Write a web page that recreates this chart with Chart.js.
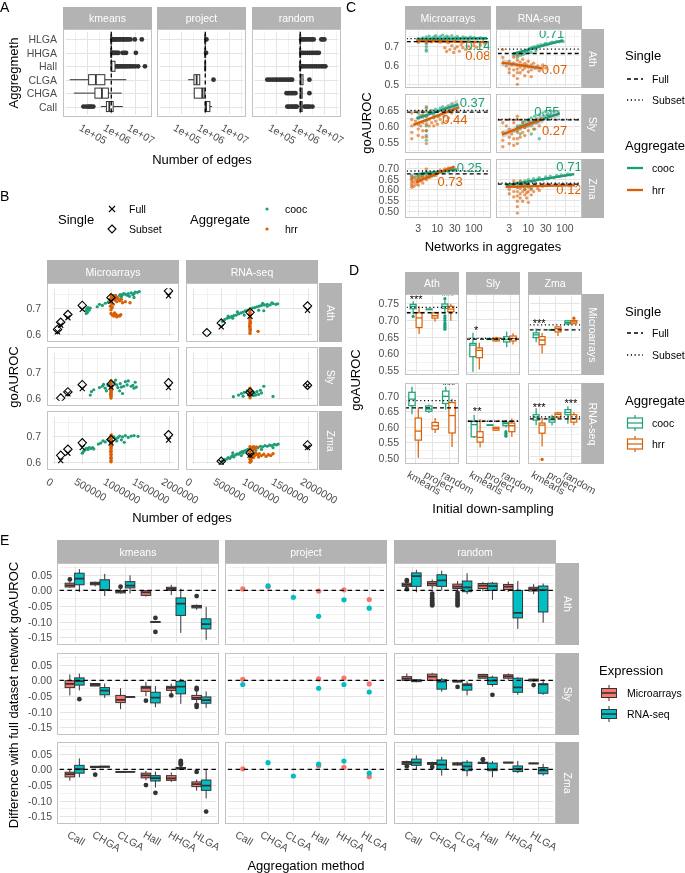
<!DOCTYPE html>
<html><head><meta charset="utf-8">
<script src="https://cdn.jsdelivr.net/npm/chart.js"></script>
<style>
body{margin:0;background:#fff;}
#root{position:relative;width:685px;height:873px;overflow:hidden;font-family:"Liberation Sans",Arial,Helvetica,sans-serif;background:#fff;}
.t{position:absolute;white-space:nowrap;line-height:1;}
canvas{position:absolute;}
</style></head><body><div id="root"></div>
<script>
// ================= DATA =================
// ---- Panel A ----
const A_methods=['kmeans','project','random'];
const A_aggs=['Call','CHGA','CLGA','Hall','HHGA','HLGA'];
const A_xticks=[1e5,1e6,1e7];
const A_xticklabels=['1e+05','1e+06','1e+07'];
const A_ref=1e6;
const A_kmeans_box=[[3.7e5,6.3e5,8.3e5,1.2e6,3.0e6],[2.8e4,2.1e5,4.1e5,7.6e5,2.7e6],[1.9e4,1.15e5,2.3e5,5.4e5,4.2e6],[1.0e6,1.0e6,1.02e6,1.43e6,1.5e6],[1.0e6,1.0e6,1.0e6,1.0e6,1.05e6],[1.0e6,1.0e6,1.0e6,1.0e6,1.05e6]];
const A_kmeans_out=[[7e4,9e4,1.1e5,1.3e5,1.5e5,1.8e5],[],[],[1.6e6,1.8e6,2e6,2.3e6,2.6e6,3e6,3.5e6,4e6,4.7e6,5.5e6,6.5e6,8e6,1e7,1.3e7,2.5e7],[1.1e6,1.2e6,1.3e6,1.45e6,1.6e6,1.8e6,2e6,3e6,3.5e6,4.1e6,1.05e7],[1.1e6,1.2e6,1.35e6,1.5e6,1.7e6,1.9e6,2.2e6,2.5e6,2.9e6,3.3e6,3.8e6,4.4e6,5.2e6,6.3e6,9.5e6,1.85e7]];
const A_project_box=[[1.0e6,1.0e6,1.08e6,1.55e6,1.9e6],[3.3e5,3.5e5,7.5e5,9.0e5,1.05e6],[1.95e5,3.4e5,4.4e5,5.9e5,6.0e5],[1e6,1e6,1e6,1e6,1e6],[1e6,1e6,1e6,1e6,1e6],[1e6,1e6,1e6,1e6,1e6]];
const A_project_out=[[],[],[2.2e6],[],[1.08e6],[1.12e6]];
const A_random_box=[[9e5,1e6,1.05e6,1.2e6,1.3e6],[9.5e5,1e6,1.05e6,1.2e6,1.3e6],[1e6,1e6,1.05e6,1.3e6,1.35e6],[1e6,1e6,1e6,1e6,1.05e6],[1e6,1e6,1e6,1e6,1.05e6],[1e6,1e6,1e6,1e6,1.05e6]];
const A_random_out=[[2.9e5,3.4e5,4e5,4.7e5,5.5e5,6.4e5,7.2e5,1.5e6,1.8e6,2.1e6,2.5e6,3.2e6],[2.7e5,3.2e5,3.8e5,4.5e5,5.3e5,6.3e5,2.4e6],[4.3e4,5.5e4,7e4,9e4,1.1e5,1.4e5,1.7e5,2.1e5,2.6e5,3.2e5,3.9e5,4.6e5,2.4e6],[1.1e6,1.3e6,1.6e6,2e6,2.5e6,3.1e6,3.9e6,4.8e6,6e6,7.5e6,9e6,1.1e7],[1.1e6,1.3e6,1.6e6,2e6,2.4e6,2.9e6,3.5e6,4.2e6,5e6,5.9e6],[1.1e6,1.3e6,1.5e6,1.8e6,2.2e6,2.6e6,3.1e6,3.6e6,7.5e6,8.5e6,1.0e7]];

// ---- Panel B ----
const B_tech=['Microarrays','RNA-seq'];
const B_species=['Ath','Sly','Zma'];
const B_sizes=[70000,125000,250000,500000,1000000,2000000];
const B_xticks=[0,500000,1000000,1500000,2000000];
const B_xticklabels=['0','500000','1000000','1500000','2000000'];
const B_yticks=[0.6,0.7];
const B_full_Mi_Ath=[0.609,0.634,0.662,0.693,0.724,0.744];
const B_sub_Mi_Ath=[0.618,0.645,0.674,0.708,0.737,0.762];
const B_full_Mi_Sly=[null,null,0.617,0.636,0.642,0.640];
const B_sub_Mi_Sly=[null,0.601,0.624,0.651,0.653,0.658];
const B_full_Mi_Zma=[null,0.606,0.634,0.655,0.673,0.683];
const B_sub_Mi_Zma=[null,0.626,0.649,0.673,0.685,0.703];
const B_full_RNA_Ath=[null,null,null,0.628,0.667,0.690];
const B_sub_RNA_Ath=[null,null,0.606,0.642,0.682,0.706];
const B_full_RNA_Sly=[null,null,null,null,0.619,0.648];
const B_sub_RNA_Sly=[null,null,null,null,0.623,0.649];
const B_full_RNA_Zma=[null,null,null,0.600,0.627,0.655];
const B_sub_RNA_Zma=[null,null,null,0.604,0.635,0.665];
const B_cooc_Mi_Ath=[[560000,0.688],[580000,0.695],[600000,0.700],[620000,0.690],[640000,0.698],[590000,0.682],[570000,0.678],[760000,0.703],[800000,0.712],[850000,0.708],[900000,0.716],[950000,0.720],[1000000,0.728],[1050000,0.735],[1080000,0.742],[1100000,0.738],[1150000,0.745],[1180000,0.740],[1200000,0.748],[1250000,0.750],[1280000,0.746],[1300000,0.752],[1350000,0.755],[1400000,0.752],[1420000,0.758],[1460000,0.757],[1490000,0.760],[1220000,0.752],[1120000,0.733],[1320000,0.742],[1380000,0.748],[1040000,0.745],[1160000,0.748],[1400000,0.738]];
const B_hrr_Mi_Ath=[[1000000,0.745],[1000000,0.735],[1000000,0.725],[1010000,0.715],[1030000,0.740],[1050000,0.732],[1070000,0.728],[1100000,0.722],[1120000,0.735],[1150000,0.725],[1180000,0.730],[1200000,0.718],[1250000,0.722],[1330000,0.718],[1080000,0.745],[1000000,0.678],[1020000,0.672],[1050000,0.668],[1080000,0.675],[1100000,0.665],[1120000,0.670],[1150000,0.668],[1170000,0.673],[1060000,0.680],[990000,0.705],[1020000,0.700],[1040000,0.712],[1000000,0.692]];
const B_cooc_RNA_Ath=[[520000,0.648],[560000,0.655],[600000,0.660],[640000,0.662],[680000,0.667],[720000,0.670],[760000,0.672],[800000,0.676],[840000,0.680],[880000,0.683],[920000,0.688],[960000,0.690],[1000000,0.695],[1040000,0.698],[1080000,0.700],[1120000,0.703],[1160000,0.705],[1200000,0.708],[1250000,0.710],[1300000,0.712],[1350000,0.710],[1400000,0.715],[1450000,0.712],[1480000,0.714],[900000,0.672],[1150000,0.690],[700000,0.660],[1300000,0.705],[1220000,0.716],[1380000,0.718],[620000,0.668],[780000,0.684],[1240000,0.688]];
const B_hrr_RNA_Ath=[[1000000,0.690],[1000000,0.681],[1000000,0.673],[1000000,0.664],[1000000,0.657],[1000000,0.650],[1000000,0.641],[1000000,0.636],[1000000,0.627],[1000000,0.621],[1000000,0.612],[1000000,0.604],[1005000,0.645],[995000,0.630],[1005000,0.617],[1140000,0.611]];
const B_cooc_Mi_Sly=[[640000,0.612],[660000,0.625],[700000,0.632],[800000,0.640],[850000,0.645],[870000,0.652],[900000,0.638],[950000,0.648],[980000,0.655],[1050000,0.660],[1080000,0.668],[1100000,0.650],[1120000,0.640],[1150000,0.628],[1180000,0.642],[1200000,0.618],[1220000,0.645],[1250000,0.662],[1280000,0.650],[1300000,0.665],[1350000,0.645],[1380000,0.648],[1420000,0.660],[1440000,0.642],[1400000,0.638],[1160000,0.655],[920000,0.628]];
const B_hrr_Mi_Sly=[[1000000,0.601],[1000000,0.607],[1000000,0.611],[1000000,0.618],[1000000,0.623],[1000000,0.627],[1000000,0.634],[1000000,0.638],[1000000,0.645],[1000000,0.648],[1000000,0.655],[1000000,0.661],[1000000,0.666],[1005000,0.630],[995000,0.615],[1005000,0.645]];
const B_cooc_RNA_Sly=[[710000,0.606],[800000,0.612],[850000,0.618],[900000,0.622],[950000,0.628],[980000,0.615],[1020000,0.632],[1050000,0.625],[1080000,0.618],[1100000,0.612],[1120000,0.625],[1150000,0.615],[1180000,0.630],[1240000,0.645],[1200000,0.620],[1400000,0.607],[1060000,0.610],[880000,0.608]];
const B_hrr_RNA_Sly=[[1000000,0.602],[1000000,0.608],[1000000,0.612],[1000000,0.619],[1000000,0.623],[1000000,0.629],[1000000,0.633],[1000000,0.638],[1005000,0.615],[995000,0.625]];
const B_cooc_Mi_Zma=[[500000,0.634],[520000,0.640],[540000,0.645],[560000,0.650],[580000,0.652],[600000,0.648],[620000,0.655],[650000,0.652],[680000,0.655],[700000,0.650],[780000,0.668],[820000,0.672],[860000,0.680],[900000,0.676],[950000,0.685],[1000000,0.690],[1050000,0.695],[1080000,0.688],[1120000,0.692],[1150000,0.698],[1180000,0.684],[1200000,0.695],[1250000,0.700],[1300000,0.693],[1350000,0.698],[1400000,0.700],[1470000,0.697],[1100000,0.680],[1230000,0.675]];
const B_hrr_Mi_Zma=[[1000000,0.602],[1000000,0.607],[1000000,0.615],[1000000,0.619],[1000000,0.627],[1000000,0.631],[1000000,0.639],[1000000,0.643],[1000000,0.651],[1000000,0.654],[1000000,0.662],[1000000,0.667],[1000000,0.673],[1000000,0.681],[1000000,0.685],[1000000,0.693],[1000000,0.697],[1005000,0.702],[995000,0.640],[1005000,0.660]];
const B_cooc_RNA_Zma=[[520000,0.605],[560000,0.610],[600000,0.612],[620000,0.618],[650000,0.615],[680000,0.622],[700000,0.625],[720000,0.620],[750000,0.628],[780000,0.632],[800000,0.630],[830000,0.636],[860000,0.640],[880000,0.635],[900000,0.642],[930000,0.645],[960000,0.648],[1000000,0.650],[1030000,0.652],[1060000,0.655],[1100000,0.657],[1140000,0.655],[1180000,0.660],[1220000,0.658],[1260000,0.662],[1300000,0.660],[1340000,0.664],[1380000,0.662],[1420000,0.667],[1460000,0.665],[1490000,0.668],[1200000,0.648],[1400000,0.655],[700000,0.635],[850000,0.625],[1100000,0.645]];
const B_hrr_RNA_Zma=[[1000000,0.600],[1000000,0.611],[1000000,0.619],[1000000,0.631],[1000000,0.639],[1000000,0.651],[1000000,0.658],[1030000,0.655],[1060000,0.658],[1090000,0.652],[1120000,0.656],[1050000,0.645],[1050000,0.630],[1080000,0.625],[1100000,0.635],[1130000,0.628],[1160000,0.632],[1200000,0.625],[1240000,0.630],[1280000,0.622],[1320000,0.628],[1360000,0.625],[1400000,0.632],[1020000,0.615],[1060000,0.618],[1150000,0.620],[1020000,0.605]];

// ---- Panel C ----
const C_xticks=[3,10,30,100];
const C_xticklabels=['3','10','30','100'];
const C_lines_Mi_Ath=[0.721,0.737], C_lines_RNA_Ath=[0.660,0.683];
const C_lines_Mi_Sly=[0.643,0.648], C_lines_RNA_Sly=[0.619,0.620];
const C_lines_Mi_Zma=[0.673,0.686], C_lines_RNA_Zma=[0.625,0.630];
const C_cooc_Mi_Ath=[[3,0.728],[3,0.735],[3.2,0.722],[4,0.740],[4,0.730],[5,0.745],[5,0.725],[5,0.710],[5,0.695],[5,0.680],[5,0.672],[6,0.750],[7,0.738],[8,0.745],[9,0.752],[10,0.740],[12,0.748],[14,0.755],[16,0.742],[18,0.750],[20,0.745],[25,0.752],[30,0.740],[35,0.748],[40,0.738],[50,0.745],[60,0.742],[70,0.738],[80,0.745],[100,0.742],[120,0.736],[150,0.740],[180,0.735],[200,0.738]];
const C_hrr_Mi_Ath=[[3,0.725],[3,0.718],[4,0.730],[5,0.722],[5,0.715],[6,0.728],[7,0.720],[8,0.732],[10,0.725],[12,0.718],[15,0.728],[18,0.722],[20,0.715],[16,0.690],[18,0.670],[22,0.680],[25,0.700],[28,0.665],[30,0.685],[35,0.695],[40,0.672],[45,0.705],[50,0.690],[60,0.680],[70,0.698],[80,0.685],[100,0.700],[120,0.692],[150,0.705],[30,0.725],[50,0.718],[70,0.722],[100,0.715],[200,0.710]];
const C_cooc_RNA_Ath=[[4,0.650],[5,0.655],[5,0.640],[6,0.662],[6,0.650],[7,0.668],[7,0.655],[8,0.672],[8,0.660],[9,0.676],[10,0.680],[10,0.668],[11,0.688],[12,0.684],[13,0.692],[14,0.686],[15,0.695],[17,0.690],[18,0.700],[20,0.697],[22,0.705],[25,0.702],[28,0.708],[30,0.712],[35,0.710],[40,0.715],[45,0.718],[50,0.716],[60,0.722],[70,0.720],[80,0.725],[90,0.722],[12,0.665],[16,0.674]];
const C_hrr_RNA_Ath=[[2,0.680],[2,0.640],[2,0.610],[2.5,0.595],[3,0.620],[3,0.580],[3,0.560],[3.5,0.600],[4,0.640],[4,0.610],[4,0.575],[4,0.545],[5,0.650],[5,0.625],[5,0.600],[5,0.580],[5,0.560],[5,0.530],[5,0.500],[6,0.615],[6,0.590],[6,0.560],[7,0.630],[7,0.600],[7,0.575],[8,0.610],[8,0.585],[8,0.545],[9,0.600],[10,0.620],[10,0.590],[10,0.565],[12,0.600],[12,0.575],[14,0.610],[15,0.585],[18,0.595],[20,0.570],[25,0.600],[30,0.585],[12,0.540]];
const C_cooc_Mi_Sly=[[3,0.625],[3,0.640],[3.5,0.632],[4,0.645],[4,0.628],[5,0.660],[5,0.645],[5,0.630],[5,0.615],[5,0.600],[5,0.585],[5,0.570],[5,0.555],[6,0.640],[7,0.648],[8,0.635],[9,0.652],[10,0.645],[11,0.630],[12,0.655],[14,0.660],[15,0.648],[17,0.655],[20,0.662],[22,0.650],[25,0.668],[30,0.660],[35,0.665]];
const C_hrr_Mi_Sly=[[2,0.640],[2,0.620],[2,0.600],[2,0.580],[2,0.560],[2.5,0.615],[3,0.645],[3,0.625],[3,0.605],[3,0.590],[3,0.570],[3.5,0.600],[4,0.635],[4,0.610],[4,0.585],[4,0.565],[5,0.655],[5,0.630],[5,0.605],[5,0.585],[5,0.565],[6,0.620],[6,0.600],[7,0.640],[7,0.610],[8,0.625],[8,0.600],[9,0.615],[10,0.630],[10,0.605],[12,0.620],[14,0.610],[15,0.630],[18,0.615],[20,0.625],[25,0.640],[5,0.545]];
const C_cooc_RNA_Sly=[[5,0.585],[6,0.600],[6,0.575],[7,0.610],[8,0.595],[8,0.615],[9,0.605],[10,0.620],[10,0.600],[11,0.612],[12,0.625],[13,0.608],[14,0.618],[15,0.630],[17,0.622],[18,0.612],[20,0.635],[22,0.625],[25,0.640],[28,0.630],[30,0.645],[35,0.638],[40,0.648],[50,0.645],[20,0.560],[12,0.575],[15,0.590]];
const C_hrr_RNA_Sly=[[2,0.610],[2,0.580],[2,0.555],[2,0.535],[2.5,0.600],[3,0.620],[3,0.590],[3,0.565],[3,0.545],[3.5,0.575],[4,0.610],[4,0.585],[4,0.560],[4,0.540],[5,0.630],[5,0.600],[5,0.580],[5,0.560],[5,0.545],[6,0.590],[6,0.565],[7,0.610],[7,0.580],[8,0.595],[8,0.570],[9,0.600],[10,0.615],[10,0.585],[12,0.600],[14,0.590],[16,0.610],[20,0.600],[5,0.620]];
const C_cooc_Mi_Zma=[[2,0.650],[2,0.665],[2.5,0.660],[3,0.655],[3,0.670],[3,0.640],[3.5,0.665],[4,0.660],[4,0.675],[5,0.670],[5,0.655],[5,0.680],[6,0.668],[7,0.672],[8,0.665],[9,0.678],[10,0.675],[12,0.682],[14,0.678],[16,0.685],[18,0.690],[20,0.683],[25,0.692],[30,0.688]];
const C_hrr_Mi_Zma=[[2,0.610],[2,0.620],[2,0.630],[2,0.640],[2,0.650],[2,0.660],[2.3,0.615],[2.3,0.635],[2.3,0.655],[2.6,0.625],[2.6,0.645],[3,0.620],[3,0.635],[3,0.650],[3,0.665],[3.5,0.640],[3.5,0.655],[4,0.630],[4,0.650],[4,0.665],[5,0.645],[5,0.660],[5,0.680],[5,0.695],[6,0.655],[6,0.670],[7,0.660],[8,0.675],[9,0.665],[10,0.680],[12,0.690],[14,0.685],[16,0.695],[20,0.700],[25,0.695],[28,0.702]];
const C_cooc_RNA_Zma=[[3,0.615],[4,0.622],[5,0.610],[5,0.628],[6,0.618],[6,0.635],[7,0.625],[8,0.640],[8,0.615],[9,0.632],[10,0.645],[10,0.625],[12,0.638],[14,0.650],[15,0.635],[18,0.648],[20,0.655],[25,0.645],[30,0.658],[35,0.650],[40,0.662],[50,0.655],[60,0.665],[70,0.660],[80,0.668],[100,0.665],[120,0.672],[140,0.668],[8,0.600],[12,0.605]];
const C_hrr_RNA_Zma=[[3,0.620],[3,0.600],[3,0.580],[4,0.615],[4,0.590],[4,0.565],[5,0.630],[5,0.610],[5,0.590],[5,0.570],[5,0.545],[5,0.520],[6,0.605],[6,0.580],[6,0.560],[7,0.615],[7,0.590],[7,0.545],[8,0.625],[8,0.600],[8,0.575],[9,0.585],[9,0.560],[10,0.610],[10,0.590],[10,0.540],[12,0.600],[12,0.575],[14,0.590],[15,0.620],[18,0.605],[20,0.595],[25,0.615],[30,0.620],[5,0.490],[6,0.640],[4,0.640]];
// fitted lines [start,end] and ribbon half-widths [start,mid,end]
const C_fit_Mi_Ath_cooc=[[2.7,0.735],[230,0.739]], C_se_Mi_Ath_cooc=[0.004,0.002,0.004];
const C_fit_Mi_Ath_hrr=[[2.7,0.726],[230,0.719]], C_se_Mi_Ath_hrr=[0.004,0.002,0.005];
const C_fit_RNA_Ath_cooc=[[3.9,0.659],[89,0.728]], C_se_RNA_Ath_cooc=[0.008,0.003,0.007];
const C_fit_RNA_Ath_hrr=[[1.9,0.613],[24,0.583]], C_se_RNA_Ath_hrr=[0.02,0.008,0.015];
const C_fit_Mi_Sly_cooc=[[2.7,0.623],[37,0.667]], C_se_Mi_Sly_cooc=[0.008,0.004,0.016];
const C_fit_Mi_Sly_hrr=[[2.2,0.603],[40,0.658]], C_se_Mi_Sly_hrr=[0.006,0.003,0.012];
const C_fit_RNA_Sly_cooc=[[4.7,0.593],[73,0.639]], C_se_RNA_Sly_cooc=[0.01,0.005,0.012];
const C_fit_RNA_Sly_hrr=[[1.9,0.573],[26,0.623]], C_se_RNA_Sly_hrr=[0.012,0.006,0.014];
const C_fit_Mi_Zma_cooc=[[2.7,0.671],[34,0.693]], C_se_Mi_Zma_cooc=[0.004,0.002,0.006];
const C_fit_Mi_Zma_hrr=[[2.6,0.634],[29,0.707]], C_se_Mi_Zma_hrr=[0.004,0.002,0.006];
const C_fit_RNA_Zma_cooc=[[2.4,0.620],[180,0.671]], C_se_RNA_Zma_cooc=[0.006,0.003,0.006];
const C_fit_RNA_Zma_hrr=[[2.4,0.612],[190,0.620]], C_se_RNA_Zma_hrr=[0.008,0.004,0.01];
const C_lab_Mi_Ath=[['0.14',58,0.697],['0.08',58,0.647]];
const C_lab_RNA_Ath=[['0.71',19.6,0.757],['0.07',23.4,0.572]];
const C_lab_Mi_Sly=[['0.37',41,0.671],['0.44',13.6,0.618]];
const C_lab_RNA_Sly=[['0.55',14.5,0.642],['0.27',23.5,0.583]];
const C_lab_Mi_Zma=[['0.25',33.9,0.700],['0.73',10.1,0.634]];
const C_lab_RNA_Zma=[['0.71',58.4,0.704],['0.12',58.4,0.595]];

// ---- Panel D ----
const D_cats=['kmeans','project','random'];
const D_Mi_Ath_cooc=[[0.716,0.733,0.740,0.746,0.755],[0.729,0.730,0.731,0.732,0.733],[0.718,0.734,0.740,0.747,0.758]];
const D_Mi_Ath_cooc_out=[[0.710],[],[0.763,0.712,0.705,0.698,0.690,0.684,0.678,0.672]];
const D_Mi_Ath_hrr=[[0.658,0.677,0.706,0.721,0.740],[0.695,0.705,0.712,0.721,0.722],[0.697,0.724,0.732,0.740,0.748]];
const D_Mi_Ath_hrr_out=[[],[],[]];
const D_Mi_Ath_lines=[0.721,0.737];
const D_Mi_Ath_stars=[['***',0,0.765],['***',2,0.774]];
const D_Mi_Sly_cooc=[[0.550,0.593,0.626,0.631,0.661],[0.641,0.642,0.643,0.644,0.645],[0.620,0.635,0.642,0.650,0.665]];
const D_Mi_Sly_cooc_out=[[],[],[]];
const D_Mi_Sly_hrr=[[0.556,0.590,0.611,0.618,0.633],[0.635,0.638,0.642,0.646,0.650],[0.628,0.638,0.645,0.652,0.660]];
const D_Mi_Sly_hrr_out=[[],[],[]];
const D_Mi_Sly_lines=[0.643,0.645];
const D_Mi_Sly_stars=[['*',0,0.671]];
const D_Mi_Zma_cooc=[[0.633,0.647,0.655,0.661,0.674],[0.668,0.669,0.670,0.671,0.672],[0.685,0.688,0.692,0.697,0.700]];
const D_Mi_Zma_cooc_out=[[],[],[]];
const D_Mi_Zma_hrr=[[0.600,0.626,0.640,0.650,0.661],[0.652,0.664,0.674,0.679,0.681],[0.686,0.690,0.694,0.698,0.701]];
const D_Mi_Zma_hrr_out=[[],[],[0.705]];
const D_Mi_Zma_lines=[0.670,0.685];
const D_Mi_Zma_stars=[['***',0,0.693]];
const D_RNA_Ath_cooc=[[0.640,0.668,0.689,0.711,0.729],[0.644,0.650,0.657,0.667,0.672],[0.655,0.675,0.698,0.715,0.730]];
const D_RNA_Ath_cooc_out=[[],[],[]];
const D_RNA_Ath_hrr=[[0.500,0.557,0.586,0.628,0.663],[0.580,0.592,0.603,0.614,0.628],[0.535,0.580,0.636,0.678,0.690]];
const D_RNA_Ath_hrr_out=[[],[],[]];
const D_RNA_Ath_lines=[0.661,0.684];
const D_RNA_Ath_stars=[['***',0,0.742],['***',2,0.737]];
const D_RNA_Sly_cooc=[[0.562,0.566,0.607,0.617,0.640],[0.603,0.604,0.605,0.606,0.607],[0.598,0.603,0.610,0.615,0.622]];
const D_RNA_Sly_cooc_out=[[],[],[0.583,0.578,0.572,0.568]];
const D_RNA_Sly_hrr=[[0.530,0.548,0.564,0.583,0.625],[0.585,0.588,0.593,0.598,0.600],[0.565,0.583,0.603,0.612,0.627]];
const D_RNA_Sly_hrr_out=[[],[],[]];
const D_RNA_Sly_lines=[0.618,0.618];
const D_RNA_Sly_stars=[['**',0,0.657]];
const D_RNA_Zma_cooc=[[0.605,0.622,0.632,0.640,0.662],[0.604,0.615,0.623,0.632,0.640],[0.610,0.640,0.648,0.657,0.668]];
const D_RNA_Zma_cooc_out=[[],[],[]];
const D_RNA_Zma_hrr=[[0.533,0.578,0.605,0.612,0.630],[0.628,0.632,0.641,0.646,0.650],[0.605,0.615,0.627,0.640,0.648]];
const D_RNA_Zma_hrr_out=[[0.490],[],[]];
const D_RNA_Zma_lines=[0.626,0.633];
const D_RNA_Zma_stars=[['***',0,0.668],['***',2,0.684]];

// ---- Panel E ----
const E_methods=['kmeans','project','random'];
const E_species=['Ath','Sly','Zma'];
const E_aggs=['Call','CHGA','CLGA','Hall','HHGA','HLGA'];
const E_yticks=[-0.15,-0.1,-0.05,0,0.05];
const E_yticklabels=['-0.15','-0.10','-0.05','0.00','0.05'];
const E_km_Ath_mic=[[0.008,0.011,0.016,0.023,0.028],[0.013,0.018,0.022,0.026,0.028],[-0.010,-0.008,-0.004,-0.001,0.005],[-0.020,-0.016,-0.006,-0.001,0.000],[-0.015,0.000,0.005,0.010,0.018],[-0.062,-0.056,-0.052,-0.048,-0.045]];
const E_km_Ath_mic_out=[[0.035],[],[0.012],[],[],[-0.018]];
const E_km_Ath_rna=[[-0.005,0.018,0.038,0.055,0.068],[-0.018,0.000,0.002,0.034,0.053],[-0.010,0.008,0.015,0.028,0.048],[-0.103,-0.102,-0.101,-0.100,-0.099],[-0.136,-0.080,-0.042,-0.024,0.005],[-0.158,-0.123,-0.108,-0.091,-0.053]];
const E_km_Ath_rna_out=[[],[],[],[-0.088,-0.133],[],[]];
const E_km_Sly_mic=[[-0.048,-0.023,-0.011,-0.001,0.019],[-0.018,-0.018,-0.014,-0.010,-0.009],[-0.092,-0.071,-0.062,-0.048,-0.025],[-0.050,-0.035,-0.024,-0.019,-0.005],[-0.040,-0.032,-0.024,-0.019,-0.010],[-0.070,-0.061,-0.056,-0.048,-0.035]];
const E_km_Sly_mic_out=[[],[],[],[-0.065],[-0.048],[-0.024,-0.029,-0.078,-0.085]];
const E_km_Sly_rna=[[-0.032,-0.015,-0.002,0.008,0.022],[-0.056,-0.046,-0.033,-0.023,-0.010],[-0.054,-0.054,-0.053,-0.053,-0.052],[-0.086,-0.072,-0.055,-0.038,-0.018],[-0.075,-0.043,-0.020,-0.003,0.005],[-0.088,-0.073,-0.063,-0.053,-0.035]];
const E_km_Sly_rna_out=[[-0.060],[],[],[],[],[]];
const E_km_Zma_mic=[[-0.036,-0.024,-0.015,-0.009,0.000],[0.004,0.006,0.008,0.010,0.011],[-0.009,-0.009,-0.008,-0.007,-0.007],[-0.035,-0.027,-0.019,-0.012,-0.005],[-0.040,-0.035,-0.029,-0.020,-0.010],[-0.068,-0.055,-0.047,-0.040,-0.033]];
const E_km_Zma_mic_out=[[],[-0.017],[],[-0.050],[],[-0.008]];
const E_km_Zma_rna=[[-0.025,-0.012,0.001,0.013,0.035],[0.006,0.007,0.009,0.010,0.011],[-0.009,-0.008,-0.008,-0.007,-0.007],[-0.058,-0.037,-0.028,-0.020,-0.007],[-0.002,0.001,0.004,0.006,0.008],[-0.093,-0.067,-0.052,-0.034,0.000]];
const E_km_Zma_rna_out=[[],[],[],[-0.075],[0.015,0.020,0.024,0.027],[-0.135]];
const E_pr_Ath_mic=[0.005,0.012,null,-0.002,0.002,-0.029];
const E_pr_Ath_rna=[null,0.015,-0.022,-0.083,-0.030,-0.057];
const E_pr_Sly_mic=[0.004,null,null,0.005,0.008,-0.011];
const E_pr_Sly_rna=[-0.013,null,null,-0.025,-0.013,-0.037];
const E_pr_Zma_mic=[0.002,null,null,0.012,0.007,-0.023];
const E_pr_Zma_rna=[null,0.022,-0.021,0.017,0.027,-0.012];
const E_ra_Ath_mic=[[0.010,0.013,0.018,0.023,0.028],[0.005,0.015,0.022,0.028,0.035],[-0.002,0.006,0.012,0.020,0.030],[-0.003,0.006,0.015,0.022,0.027],[-0.005,0.003,0.012,0.019,0.028],[-0.012,-0.002,0.004,0.010,0.020]];
const E_ra_Ath_mic_out=[[0.033,0.030,0.004],[-0.010,-0.018,-0.025,-0.032,-0.038,-0.044,-0.048],[-0.008,-0.016,-0.024,-0.030,-0.036,-0.042,-0.048],[],[],[]];
const E_ra_Ath_rna=[[-0.006,0.013,0.046,0.056,0.066],[0.000,0.013,0.032,0.050,0.063],[-0.012,-0.004,0.010,0.030,0.055],[-0.030,0.000,0.014,0.023,0.027],[-0.123,-0.088,-0.072,0.000,0.030],[-0.103,-0.069,0.001,0.014,0.022]];
const E_ra_Ath_rna_out=[[],[],[],[],[],[]];
const E_ra_Sly_mic=[[-0.003,0.000,0.006,0.012,0.022],[-0.002,0.000,0.012,0.020,0.024],[-0.007,-0.005,-0.003,0.000,0.001],[0.005,0.007,0.013,0.019,0.021],[0.002,0.007,0.013,0.018,0.022],[-0.004,-0.002,0.001,0.004,0.006]];
const E_ra_Sly_mic_out=[[],[],[-0.021],[],[],[-0.015]];
const E_ra_Sly_rna=[[-0.006,-0.004,-0.001,0.002,0.004],[-0.036,-0.028,-0.004,0.002,0.008],[-0.048,-0.031,-0.015,-0.011,-0.003],[-0.020,-0.013,-0.001,0.010,0.015],[-0.046,-0.038,-0.022,0.007,0.010],[-0.046,-0.041,-0.013,-0.011,0.003]];
const E_ra_Sly_rna_out=[[],[],[],[-0.046],[],[]];
const E_ra_Zma_mic=[[0.012,0.016,0.021,0.025,0.028],[0.012,0.016,0.019,0.022,0.025],[0.012,0.014,0.018,0.021,0.024],[0.017,0.019,0.021,0.023,0.026],[0.021,0.021,0.022,0.023,0.023],[0.018,0.018,0.019,0.020,0.020]];
const E_ra_Zma_mic_out=[[0.010],[0.008],[],[0.031,0.032],[],[]];
const E_ra_Zma_rna=[[0.000,0.013,0.022,0.033,0.045],[-0.020,0.000,0.015,0.030,0.040],[-0.022,-0.004,0.010,0.023,0.030],[-0.025,-0.004,0.000,0.020,0.027],[-0.012,-0.007,0.002,0.011,0.027],[-0.020,-0.014,-0.003,0.006,0.018]];
const E_ra_Zma_rna_out=[[],[],[],[],[],[]];

// ================= STYLE / HELPERS =================
const COOC='#1B9E77', HRR='#D95F02', MIC='#F8766D', RNA='#00BFC4';
const COOC_A='rgba(27,158,119,0.6)', HRR_A='rgba(217,95,2,0.6)';
const GRID_MAJ='#E4E4E4', GRID_MIN='#F1F1F1', BORDER='#C2C2C2', STRIP='#B3B3B3', TICK='#4D4D4D';
const root=document.getElementById('root');

function T(s,x,y,o){o=o||{};const d=document.createElement('div');d.className='t';d.textContent=s;
  d.style.fontSize=(o.size||10.5)+'px';d.style.color=o.color||TICK;d.style.left=x+'px';d.style.top=y+'px';
  if(o.tl!==undefined){d.style.transformOrigin='0 0';d.style.transform='rotate('+o.tl+'deg)';}
  else{const tx=o.ha==='l'?'0%':o.ha==='r'?'-100%':'-50%';const ty=o.va==='t'?'0%':o.va==='b'?'-100%':'-50%';
    d.style.transform='translate('+tx+','+ty+')'+(o.rot?' rotate('+o.rot+'deg)':'');}
  d.style.zIndex=5;root.appendChild(d);return d;}
function strip(s,x,y,w,h,vert){const d=document.createElement('div');
  d.style.cssText='position:absolute;left:'+x+'px;top:'+y+'px;width:'+w+'px;height:'+h+'px;background:'+STRIP+';';
  root.appendChild(d);T(s,x+w/2,y+h/2,{color:'#fff',size:10.5,rot:vert?90:0});}
function pts(pairs){return pairs.map(p=>({x:p[0],y:p[1]}));}
function ds(data,color,r,extra){return Object.assign({data:data,pointRadius:r,pointHoverRadius:r,pointBackgroundColor:color,pointBorderColor:color,pointBorderWidth:0,showLine:false},extra||{});}
function hline(ctx,ys,a,v,dash,lw,col){const p=ys.getPixelForValue(v);ctx.save();ctx.setLineDash(dash);ctx.lineWidth=lw;ctx.strokeStyle=col||'#000';ctx.beginPath();ctx.moveTo(a.left,p);ctx.lineTo(a.right,p);ctx.stroke();ctx.restore();}
function vline(ctx,xs,a,v,dash,lw,col){const p=xs.getPixelForValue(v);ctx.save();ctx.setLineDash(dash);ctx.lineWidth=lw;ctx.strokeStyle=col||'#000';ctx.beginPath();ctx.moveTo(p,a.top);ctx.lineTo(p,a.bottom);ctx.stroke();ctx.restore();}
const DASH=[4,3], DOT=[1.2,2.6];
function vbox(ctx,xs,ys,xc,hw,b,st){
  const xl=xs.getPixelForValue(xc-hw),xr=xs.getPixelForValue(xc+hw),xm=xs.getPixelForValue(xc);
  const p=b.map(v=>ys.getPixelForValue(v));
  ctx.save();ctx.strokeStyle=st.stroke;ctx.lineWidth=st.lw;
  ctx.beginPath();ctx.moveTo(xm,p[4]);ctx.lineTo(xm,p[3]);ctx.moveTo(xm,p[1]);ctx.lineTo(xm,p[0]);ctx.stroke();
  ctx.fillStyle=st.fill;ctx.fillRect(xl,p[3],xr-xl,p[1]-p[3]);ctx.strokeRect(xl,p[3],xr-xl,p[1]-p[3]);
  ctx.lineWidth=st.mlw;ctx.beginPath();ctx.moveTo(xl,p[2]);ctx.lineTo(xr,p[2]);ctx.stroke();ctx.restore();}
function hbox(ctx,xs,ys,yc,hw,b,st){
  const yt=ys.getPixelForValue(yc+hw),yb=ys.getPixelForValue(yc-hw),ym=ys.getPixelForValue(yc);
  const p=b.map(v=>xs.getPixelForValue(v));
  ctx.save();ctx.strokeStyle=st.stroke;ctx.lineWidth=st.lw;
  ctx.beginPath();ctx.moveTo(p[0],ym);ctx.lineTo(p[1],ym);ctx.moveTo(p[3],ym);ctx.lineTo(p[4],ym);ctx.stroke();
  ctx.fillStyle=st.fill;ctx.fillRect(p[1],yt,p[3]-p[1],yb-yt);ctx.strokeRect(p[1],yt,p[3]-p[1],yb-yt);
  ctx.lineWidth=st.mlw;ctx.beginPath();ctx.moveTo(p[2],yt);ctx.lineTo(p[2],yb);ctx.stroke();ctx.restore();}

function facet(o){
  const c=document.createElement('canvas');c.width=o.w;c.height=o.h;
  c.style.left=o.x+'px';c.style.top=o.y+'px';c.style.width=o.w+'px';c.style.height=o.h+'px';
  root.appendChild(c);
  const deco={id:'deco',
    beforeDatasetsDraw(ch){const ctx=ch.ctx,a=ch.chartArea,xs=ch.scales.x,ys=ch.scales.y;
      ctx.save();ctx.beginPath();ctx.rect(a.left,a.top,a.right-a.left,a.bottom-a.top);ctx.clip();ctx.lineWidth=1;
      const vl=(v,col)=>{const p=Math.round(xs.getPixelForValue(v))+0.5;ctx.strokeStyle=col;ctx.beginPath();ctx.moveTo(p,a.top);ctx.lineTo(p,a.bottom);ctx.stroke();};
      const hl=(v,col)=>{const p=Math.round(ys.getPixelForValue(v))+0.5;ctx.strokeStyle=col;ctx.beginPath();ctx.moveTo(a.left,p);ctx.lineTo(a.right,p);ctx.stroke();};
      (o.xMinor||[]).forEach(v=>vl(v,GRID_MIN));(o.yMinor||[]).forEach(v=>hl(v,GRID_MIN));
      (o.xMajor||[]).forEach(v=>vl(v,GRID_MAJ));(o.yMajor||[]).forEach(v=>hl(v,GRID_MAJ));
      ctx.restore();},
    afterDatasetsDraw(ch){const ctx=ch.ctx,a=ch.chartArea;
      if(o.over){ctx.save();ctx.beginPath();ctx.rect(a.left,a.top,a.right-a.left,a.bottom-a.top);ctx.clip();o.over(ctx,ch.scales.x,ch.scales.y,a);ctx.restore();}},
    afterDraw(ch){const ctx=ch.ctx;ctx.save();ctx.strokeStyle=BORDER;ctx.lineWidth=1;ctx.strokeRect(0.5,0.5,o.w-1,o.h-1);ctx.restore();}
  };
  return new Chart(c,{type:'scatter',data:{datasets:o.datasets||[]},
    options:{responsive:false,maintainAspectRatio:false,animation:false,events:[],layout:{padding:0},
      plugins:{legend:{display:false},tooltip:{enabled:false}},
      scales:{x:Object.assign({display:false},o.xs),y:Object.assign({display:false},o.ys)}},
    plugins:[deco]});
}

// ================= PANEL A =================
const A_box={kmeans:A_kmeans_box,project:A_project_box,random:A_random_box};
const A_out={kmeans:A_kmeans_out,project:A_project_out,random:A_random_out};
const A_X=[63,157,252];
A_methods.forEach((m,i)=>{
  const op=[];A_out[m].forEach((arr,j)=>arr.forEach(v=>op.push({x:v,y:j})));
  const x0=A_X[i];
  const ch=facet({x:x0,y:29,w:89,h:88,xs:{type:'logarithmic',min:1.25e4,max:3.9e7},ys:{type:'linear',min:-0.6,max:5.6},
    xMajor:A_xticks,xMinor:[3.16e4,3.16e5,3.16e6,3.16e7],yMajor:[0,1,2,3,4,5],
    datasets:[ds(op,'#333',2.4)],
    over:(ctx,xs,ys,a)=>{A_box[m].forEach((b,j)=>hbox(ctx,xs,ys,j,0.375,b,{stroke:'#333',fill:'#fff',lw:1,mlw:1.8}));
      vline(ctx,xs,a,A_ref,DASH,1.3);}});
  strip(m,x0,7,89,22,false);
  A_xticks.forEach((v,k)=>T(A_xticklabels[k],x0+ch.scales.x.getPixelForValue(v)-4,122,{tl:30}));
  if(i===0)A_aggs.forEach((g,j)=>T(g,x0-6,29+ch.scales.y.getPixelForValue(j),{ha:'r'}));
});
T('Number of edges',202,159,{size:13,color:'#000'});
T('Aggregmeth',13,73,{size:13,color:'#000',rot:-90});
T('A',0,0,{size:14,color:'#000',ha:'l',va:'t'});

// ================= PANEL B =================
const B_tab={Microarrays:{Ath:[B_full_Mi_Ath,B_sub_Mi_Ath,B_cooc_Mi_Ath,B_hrr_Mi_Ath],Sly:[B_full_Mi_Sly,B_sub_Mi_Sly,B_cooc_Mi_Sly,B_hrr_Mi_Sly],Zma:[B_full_Mi_Zma,B_sub_Mi_Zma,B_cooc_Mi_Zma,B_hrr_Mi_Zma]},
 'RNA-seq':{Ath:[B_full_RNA_Ath,B_sub_RNA_Ath,B_cooc_RNA_Ath,B_hrr_RNA_Ath],Sly:[B_full_RNA_Sly,B_sub_RNA_Sly,B_cooc_RNA_Sly,B_hrr_RNA_Sly],Zma:[B_full_RNA_Zma,B_sub_RNA_Zma,B_cooc_RNA_Zma,B_hrr_RNA_Zma]}};
const B_X=[47,186],B_Y=[283,347,411];
B_tech.forEach((t,ci)=>{strip(t,B_X[ci],260,132,23,false);
 B_species.forEach((s,ri)=>{
  const r=B_tab[t][s];const fp=[],sp=[];
  B_sizes.forEach((z,k)=>{if(r[0][k]!=null)fp.push({x:z,y:r[0][k]});if(r[1][k]!=null)sp.push({x:z,y:r[1][k]});});
  const ch=facet({x:B_X[ci],y:B_Y[ri],w:132,h:59,xs:{type:'linear',min:-21000,max:2090000},ys:{type:'linear',min:0.591,max:0.772},
    xMajor:B_xticks,xMinor:[250000,750000,1250000,1750000],yMajor:B_yticks,yMinor:[0.65,0.75],
    datasets:[ds(fp,'#000',3.6,{pointStyle:'crossRot',pointBorderColor:'#000',pointBorderWidth:1.1}),
      ds(sp,'rgba(0,0,0,0)',4.2,{pointStyle:'rectRot',pointBorderColor:'#000',pointBorderWidth:1.1}),
      ds(pts(r[3]),HRR,1.7),ds(pts(r[2]),COOC,1.6)]});
  if(ci===0)B_yticks.forEach(v=>T(String(v),B_X[0]-6,B_Y[ri]+ch.scales.y.getPixelForValue(v),{ha:'r'}));
  if(ri===2)B_xticks.forEach((v,k)=>T(B_xticklabels[k],B_X[ci]+ch.scales.x.getPixelForValue(v)-4,476,{tl:30}));
  if(ci===1)strip(s,319,B_Y[ri],23,59,true);
 });});
T('Number of edges',182,517,{size:13,color:'#000'});
T('goAUROC',13,377,{size:13,color:'#000',rot:-90});
T('B',0,189,{size:14,color:'#000',ha:'l',va:'t'});
T('Single',58,219,{size:13,color:'#000',ha:'l'});
T('Full',129,209,{size:10.5,color:'#000',ha:'l'});
T('Subset',129,229,{size:10.5,color:'#000',ha:'l'});
T('Aggregate',190,219,{size:13,color:'#000',ha:'l'});
T('cooc',285,209,{size:10.5,color:'#000',ha:'l'});
T('hrr',285,229,{size:10.5,color:'#000',ha:'l'});

// ================= PANEL C =================
const C_tab={Microarrays:{
  Ath:{c:C_cooc_Mi_Ath,h:C_hrr_Mi_Ath,l:C_lines_Mi_Ath,fc:C_fit_Mi_Ath_cooc,sc:C_se_Mi_Ath_cooc,fh:C_fit_Mi_Ath_hrr,sh:C_se_Mi_Ath_hrr,lab:C_lab_Mi_Ath},
  Sly:{c:C_cooc_Mi_Sly,h:C_hrr_Mi_Sly,l:C_lines_Mi_Sly,fc:C_fit_Mi_Sly_cooc,sc:C_se_Mi_Sly_cooc,fh:C_fit_Mi_Sly_hrr,sh:C_se_Mi_Sly_hrr,lab:C_lab_Mi_Sly},
  Zma:{c:C_cooc_Mi_Zma,h:C_hrr_Mi_Zma,l:C_lines_Mi_Zma,fc:C_fit_Mi_Zma_cooc,sc:C_se_Mi_Zma_cooc,fh:C_fit_Mi_Zma_hrr,sh:C_se_Mi_Zma_hrr,lab:C_lab_Mi_Zma}},
 'RNA-seq':{
  Ath:{c:C_cooc_RNA_Ath,h:C_hrr_RNA_Ath,l:C_lines_RNA_Ath,fc:C_fit_RNA_Ath_cooc,sc:C_se_RNA_Ath_cooc,fh:C_fit_RNA_Ath_hrr,sh:C_se_RNA_Ath_hrr,lab:C_lab_RNA_Ath},
  Sly:{c:C_cooc_RNA_Sly,h:C_hrr_RNA_Sly,l:C_lines_RNA_Sly,fc:C_fit_RNA_Sly_cooc,sc:C_se_RNA_Sly_cooc,fh:C_fit_RNA_Sly_hrr,sh:C_se_RNA_Sly_hrr,lab:C_lab_RNA_Sly},
  Zma:{c:C_cooc_RNA_Zma,h:C_hrr_RNA_Zma,l:C_lines_RNA_Zma,fc:C_fit_RNA_Zma_cooc,sc:C_se_RNA_Zma_cooc,fh:C_fit_RNA_Zma_hrr,sh:C_se_RNA_Zma_hrr,lab:C_lab_RNA_Zma}}};
const C_rows=[
  {y:29,min:0.49,max:0.778,maj:[0.5,0.6,0.7],lab:['0.5','0.6','0.7'],mnr:[0.55,0.65,0.75]},
  {y:94,min:0.521,max:0.694,maj:[0.55,0.6,0.65],lab:['0.55','0.60','0.65'],mnr:[0.525,0.575,0.625,0.675]},
  {y:159,min:0.475,max:0.734,maj:[0.5,0.55,0.6,0.65,0.7],lab:['0.50','0.55','0.60','0.65','0.70'],mnr:[0.475,0.525,0.575,0.625,0.675,0.725]}];
const C_X=[405,496];
function ribbonFit(ctx,xs,ys,f,se,col){
  const x0=f[0][0],x1=f[1][0],xm=Math.sqrt(x0*x1),ym=(f[0][1]+f[1][1])/2;
  ctx.fillStyle='rgba(153,153,153,0.4)';ctx.beginPath();
  ctx.moveTo(xs.getPixelForValue(x0),ys.getPixelForValue(f[0][1]+se[0]));
  ctx.lineTo(xs.getPixelForValue(xm),ys.getPixelForValue(ym+se[1]));
  ctx.lineTo(xs.getPixelForValue(x1),ys.getPixelForValue(f[1][1]+se[2]));
  ctx.lineTo(xs.getPixelForValue(x1),ys.getPixelForValue(f[1][1]-se[2]));
  ctx.lineTo(xs.getPixelForValue(xm),ys.getPixelForValue(ym-se[1]));
  ctx.lineTo(xs.getPixelForValue(x0),ys.getPixelForValue(f[0][1]-se[0]));
  ctx.closePath();ctx.fill();}
function fitLine(ctx,xs,ys,f,col){ctx.strokeStyle=col;ctx.lineWidth=2.3;ctx.beginPath();
  ctx.moveTo(xs.getPixelForValue(f[0][0]),ys.getPixelForValue(f[0][1]));ctx.lineTo(xs.getPixelForValue(f[1][0]),ys.getPixelForValue(f[1][1]));ctx.stroke();}
B_tech.forEach((t,ci)=>{strip(t,C_X[ci],6,86,23,false);
 B_species.forEach((s,ri)=>{
  const d=C_tab[t][s],R=C_rows[ri];
  const ch=facet({x:C_X[ci],y:R.y,w:86,h:59,xs:{type:'logarithmic',min:1.45,max:265},ys:{type:'linear',min:R.min,max:R.max},
    xMajor:C_xticks,xMinor:[1.64,5.48,17.3,54.8,173],yMajor:R.maj,yMinor:R.mnr,
    datasets:[ds(pts(d.h),HRR_A,1.7),ds(pts(d.c),COOC_A,1.7)],
    over:(ctx,xs,ys,a)=>{
      ribbonFit(ctx,xs,ys,d.fc,d.sc);ribbonFit(ctx,xs,ys,d.fh,d.sh);
      fitLine(ctx,xs,ys,d.fc,COOC);fitLine(ctx,xs,ys,d.fh,HRR);
      hline(ctx,ys,a,d.l[0],DASH,1.3);hline(ctx,ys,a,d.l[1],DOT,1.3);
      ctx.font='13px "Liberation Sans", Arial, sans-serif';ctx.textBaseline='middle';ctx.textAlign='left';
      d.lab.forEach((L,k)=>{ctx.fillStyle=k===0?COOC:HRR;ctx.fillText(L[0],xs.getPixelForValue(L[1]),ys.getPixelForValue(L[2]));});
    }});
  if(ci===0)R.maj.forEach((v,k)=>T(R.lab[k],C_X[0]-6,R.y+ch.scales.y.getPixelForValue(v),{ha:'r'}));
  if(ri===2)C_xticks.forEach((v,k)=>T(C_xticklabels[k],C_X[ci]+ch.scales.x.getPixelForValue(v),228,{}));
  if(ci===1)strip(s,582,R.y,22,59,true);
 });});
T('Networks in aggregates',493,246,{size:13,color:'#000'});
T('goAUROC',366,123,{size:13,color:'#000',rot:-90});
T('C',346,0,{size:14,color:'#000',ha:'l',va:'t'});
T('Single',625,55,{size:13,color:'#000',ha:'l'});
T('Full',652,79,{size:10.5,color:'#000',ha:'l'});
T('Subset',652,100,{size:10.5,color:'#000',ha:'l'});
T('Aggregate',625,145,{size:13,color:'#000',ha:'l'});
T('cooc',652,168,{size:10.5,color:'#000',ha:'l'});
T('hrr',652,190,{size:10.5,color:'#000',ha:'l'});

// ================= PANEL D =================
const D_tab={Microarrays:{
  Ath:[D_Mi_Ath_cooc,D_Mi_Ath_cooc_out,D_Mi_Ath_hrr,D_Mi_Ath_hrr_out,D_Mi_Ath_lines,D_Mi_Ath_stars],
  Sly:[D_Mi_Sly_cooc,D_Mi_Sly_cooc_out,D_Mi_Sly_hrr,D_Mi_Sly_hrr_out,D_Mi_Sly_lines,D_Mi_Sly_stars],
  Zma:[D_Mi_Zma_cooc,D_Mi_Zma_cooc_out,D_Mi_Zma_hrr,D_Mi_Zma_hrr_out,D_Mi_Zma_lines,D_Mi_Zma_stars]},
 'RNA-seq':{
  Ath:[D_RNA_Ath_cooc,D_RNA_Ath_cooc_out,D_RNA_Ath_hrr,D_RNA_Ath_hrr_out,D_RNA_Ath_lines,D_RNA_Ath_stars],
  Sly:[D_RNA_Sly_cooc,D_RNA_Sly_cooc_out,D_RNA_Sly_hrr,D_RNA_Sly_hrr_out,D_RNA_Sly_lines,D_RNA_Sly_stars],
  Zma:[D_RNA_Zma_cooc,D_RNA_Zma_cooc_out,D_RNA_Zma_hrr,D_RNA_Zma_hrr_out,D_RNA_Zma_lines,D_RNA_Zma_stars]}};
const D_X=[405,466,528];
const D_rows=[
  {t:'Microarrays',y:294,h:81,min:0.5406,max:0.772,maj:[0.55,0.6,0.65,0.7,0.75],lab:['0.55','0.60','0.65','0.70','0.75'],mnr:[0.575,0.625,0.675,0.725]},
  {t:'RNA-seq',y:383,h:81,min:0.48,max:0.741,maj:[0.5,0.55,0.6,0.65,0.7],lab:['0.50','0.55','0.60','0.65','0.70'],mnr:[0.525,0.575,0.625,0.675,0.725]}];
B_species.forEach((s,ci)=>{strip(s,D_X[ci],272,54,22,false);
 D_rows.forEach((R,ri)=>{
  const d=D_tab[R.t][s];
  const oc=[],oh=[];d[1].forEach((arr,j)=>arr.forEach(v=>oc.push({x:j-0.1875,y:v})));d[3].forEach((arr,j)=>arr.forEach(v=>oh.push({x:j+0.1875,y:v})));
  const ch=facet({x:D_X[ci],y:R.y,w:54,h:R.h,xs:{type:'linear',min:-0.6,max:2.6},ys:{type:'linear',min:R.min,max:R.max},
    xMajor:[0,1,2],yMajor:R.maj,yMinor:R.mnr,
    datasets:[ds(oh,HRR,1.6),ds(oc,COOC,1.6)],
    over:(ctx,xs,ys,a)=>{
      d[0].forEach((b,j)=>vbox(ctx,xs,ys,j-0.1875,0.1875,b,{stroke:COOC,fill:'#fff',lw:1.2,mlw:1.3}));
      d[2].forEach((b,j)=>vbox(ctx,xs,ys,j+0.1875,0.1875,b,{stroke:HRR,fill:'#fff',lw:1.2,mlw:1.3}));
      hline(ctx,ys,a,d[4][0],DASH,1.3);hline(ctx,ys,a,d[4][1],DOT,1.3);
      ctx.fillStyle='#000';ctx.font='11px "Liberation Sans", Arial, sans-serif';ctx.textAlign='center';ctx.textBaseline='middle';
      d[5].forEach(S=>ctx.fillText(S[0],xs.getPixelForValue(S[1]),ys.getPixelForValue(S[2])+2));
    }});
  if(ci===0)R.maj.forEach((v,k)=>T(R.lab[k],D_X[0]-6,R.y+ch.scales.y.getPixelForValue(v),{ha:'r'}));
  if(ri===1)D_cats.forEach((c,k)=>T(c,D_X[ci]+ch.scales.x.getPixelForValue(k)-4,469,{tl:30}));
  if(ci===2)strip(R.t,582,R.y,22,R.h,true);
 });});
T('Initial down-sampling',493,508,{size:13,color:'#000'});
T('goAUROC',355,380,{size:13,color:'#000',rot:-90});
T('D',349,263,{size:14,color:'#000',ha:'l',va:'t'});
T('Single',625,311,{size:13,color:'#000',ha:'l'});
T('Full',652,333,{size:10.5,color:'#000',ha:'l'});
T('Subset',652,355,{size:10.5,color:'#000',ha:'l'});
T('Aggregate',625,400,{size:13,color:'#000',ha:'l'});
T('cooc',652,423,{size:10.5,color:'#000',ha:'l'});
T('hrr',652,444,{size:10.5,color:'#000',ha:'l'});

// ================= PANEL E =================
const E_box={kmeans:{Ath:[E_km_Ath_mic,E_km_Ath_mic_out,E_km_Ath_rna,E_km_Ath_rna_out],Sly:[E_km_Sly_mic,E_km_Sly_mic_out,E_km_Sly_rna,E_km_Sly_rna_out],Zma:[E_km_Zma_mic,E_km_Zma_mic_out,E_km_Zma_rna,E_km_Zma_rna_out]},
  random:{Ath:[E_ra_Ath_mic,E_ra_Ath_mic_out,E_ra_Ath_rna,E_ra_Ath_rna_out],Sly:[E_ra_Sly_mic,E_ra_Sly_mic_out,E_ra_Sly_rna,E_ra_Sly_rna_out],Zma:[E_ra_Zma_mic,E_ra_Zma_mic_out,E_ra_Zma_rna,E_ra_Zma_rna_out]}};
const E_pts={Ath:[E_pr_Ath_mic,E_pr_Ath_rna],Sly:[E_pr_Sly_mic,E_pr_Sly_rna],Zma:[E_pr_Zma_mic,E_pr_Zma_rna]};
const E_X=[57,225,394],E_Y=[563,653,742];
E_methods.forEach((m,ci)=>{strip(m,E_X[ci],540,162,23,false);
 E_species.forEach((s,ri)=>{
  let dsets=[],over;
  if(m==='project'){
    const pm=[],pr=[];E_pts[s][0].forEach((v,j)=>{if(v!=null)pm.push({x:j,y:v});});E_pts[s][1].forEach((v,j)=>{if(v!=null)pr.push({x:j,y:v});});
    dsets=[ds(pr,RNA,2.6),ds(pm,MIC,2.6)];
    over=(ctx,xs,ys,a)=>{hline(ctx,ys,a,0,[4.5,3.5],1.3);};
  }else{
    const d=E_box[m][s];const op=[];
    d[1].forEach((arr,j)=>arr.forEach(v=>op.push({x:j-0.1875,y:v})));d[3].forEach((arr,j)=>arr.forEach(v=>op.push({x:j+0.1875,y:v})));
    dsets=[ds(op,'#333',2.4)];
    over=(ctx,xs,ys,a)=>{
      d[0].forEach((b,j)=>vbox(ctx,xs,ys,j-0.1875,0.1875,b,{stroke:'#333',fill:MIC,lw:1,mlw:1.8}));
      d[2].forEach((b,j)=>vbox(ctx,xs,ys,j+0.1875,0.1875,b,{stroke:'#333',fill:RNA,lw:1,mlw:1.8}));
      hline(ctx,ys,a,0,[4.5,3.5],1.3);};
  }
  const ch=facet({x:E_X[ci],y:E_Y[ri],w:162,h:82,xs:{type:'linear',min:-0.6,max:5.6},ys:{type:'linear',min:-0.167,max:0.080},
    xMajor:[0,1,2,3,4,5],yMajor:E_yticks,yMinor:[-0.125,-0.075,-0.025,0.025,0.075],datasets:dsets,over:over});
  if(ci===0)E_yticks.forEach((v,k)=>T(E_yticklabels[k],E_X[0]-5,E_Y[ri]+ch.scales.y.getPixelForValue(v),{ha:'r'}));
  if(ri===2)E_aggs.forEach((g,k)=>T(g,E_X[ci]+ch.scales.x.getPixelForValue(k)-4,829,{tl:30}));
  if(ci===2)strip(s,556,E_Y[ri],23,82,true);
 });});
T('Aggregation method',306,865,{size:13,color:'#000'});
T('Difference with full dataset network goAUROC',13,695,{size:13,color:'#000',rot:-90});
T('E',0,533,{size:14,color:'#000',ha:'l',va:'t'});
T('Expression',599,670,{size:13,color:'#000',ha:'l'});
T('Microarrays',627,693,{size:10.5,color:'#000',ha:'l'});
T('RNA-seq',627,714,{size:10.5,color:'#000',ha:'l'});

// ================= LEGEND KEYS =================
const lg=document.createElement('canvas');lg.width=685;lg.height=873;lg.style.left='0px';lg.style.top='0px';lg.style.pointerEvents='none';root.appendChild(lg);
const g=lg.getContext('2d');
g.strokeStyle='#000';g.lineWidth=1.1;
g.beginPath();g.moveTo(109,206);g.lineTo(115,212);g.moveTo(115,206);g.lineTo(109,212);g.stroke();
g.beginPath();g.moveTo(112,225);g.lineTo(116,229);g.lineTo(112,233);g.lineTo(108,229);g.closePath();g.stroke();
g.fillStyle=COOC;g.beginPath();g.arc(267,209,1.6,0,7);g.fill();
g.fillStyle=HRR;g.beginPath();g.arc(267,229,1.6,0,7);g.fill();
function keyLine(x0,x1,y,dash,col,lw){g.save();g.setLineDash(dash);g.strokeStyle=col;g.lineWidth=lw;g.beginPath();g.moveTo(x0,y);g.lineTo(x1,y);g.stroke();g.restore();}
keyLine(627,643,79,DASH,'#000',1.3);keyLine(627,643,100,DOT,'#000',1.3);
keyLine(627,643,168,[],COOC,2.3);keyLine(627,643,190,[],HRR,2.3);
keyLine(627,643,333,DASH,'#000',1.3);keyLine(627,643,355,DOT,'#000',1.3);
function keyBox(cx,cy,w,h,wh,stroke,fill,lw,mlw){g.save();g.strokeStyle=stroke;g.lineWidth=lw;
  g.beginPath();g.moveTo(cx,cy-wh);g.lineTo(cx,cy-h/2);g.moveTo(cx,cy+h/2);g.lineTo(cx,cy+wh);g.stroke();
  g.fillStyle=fill;g.fillRect(cx-w/2,cy-h/2,w,h);g.strokeRect(cx-w/2,cy-h/2,w,h);
  g.lineWidth=mlw;g.beginPath();g.moveTo(cx-w/2,cy);g.lineTo(cx+w/2,cy);g.stroke();g.restore();}
keyBox(635,423,15,10,8,COOC,'#fff',1.2,1.2);keyBox(635,444,15,10,8,HRR,'#fff',1.2,1.2);
keyBox(609,693,15,9,8,'#333',MIC,1,1.6);keyBox(609,714,15,9,8,'#333',RNA,1,1.6);
</script></body></html>
